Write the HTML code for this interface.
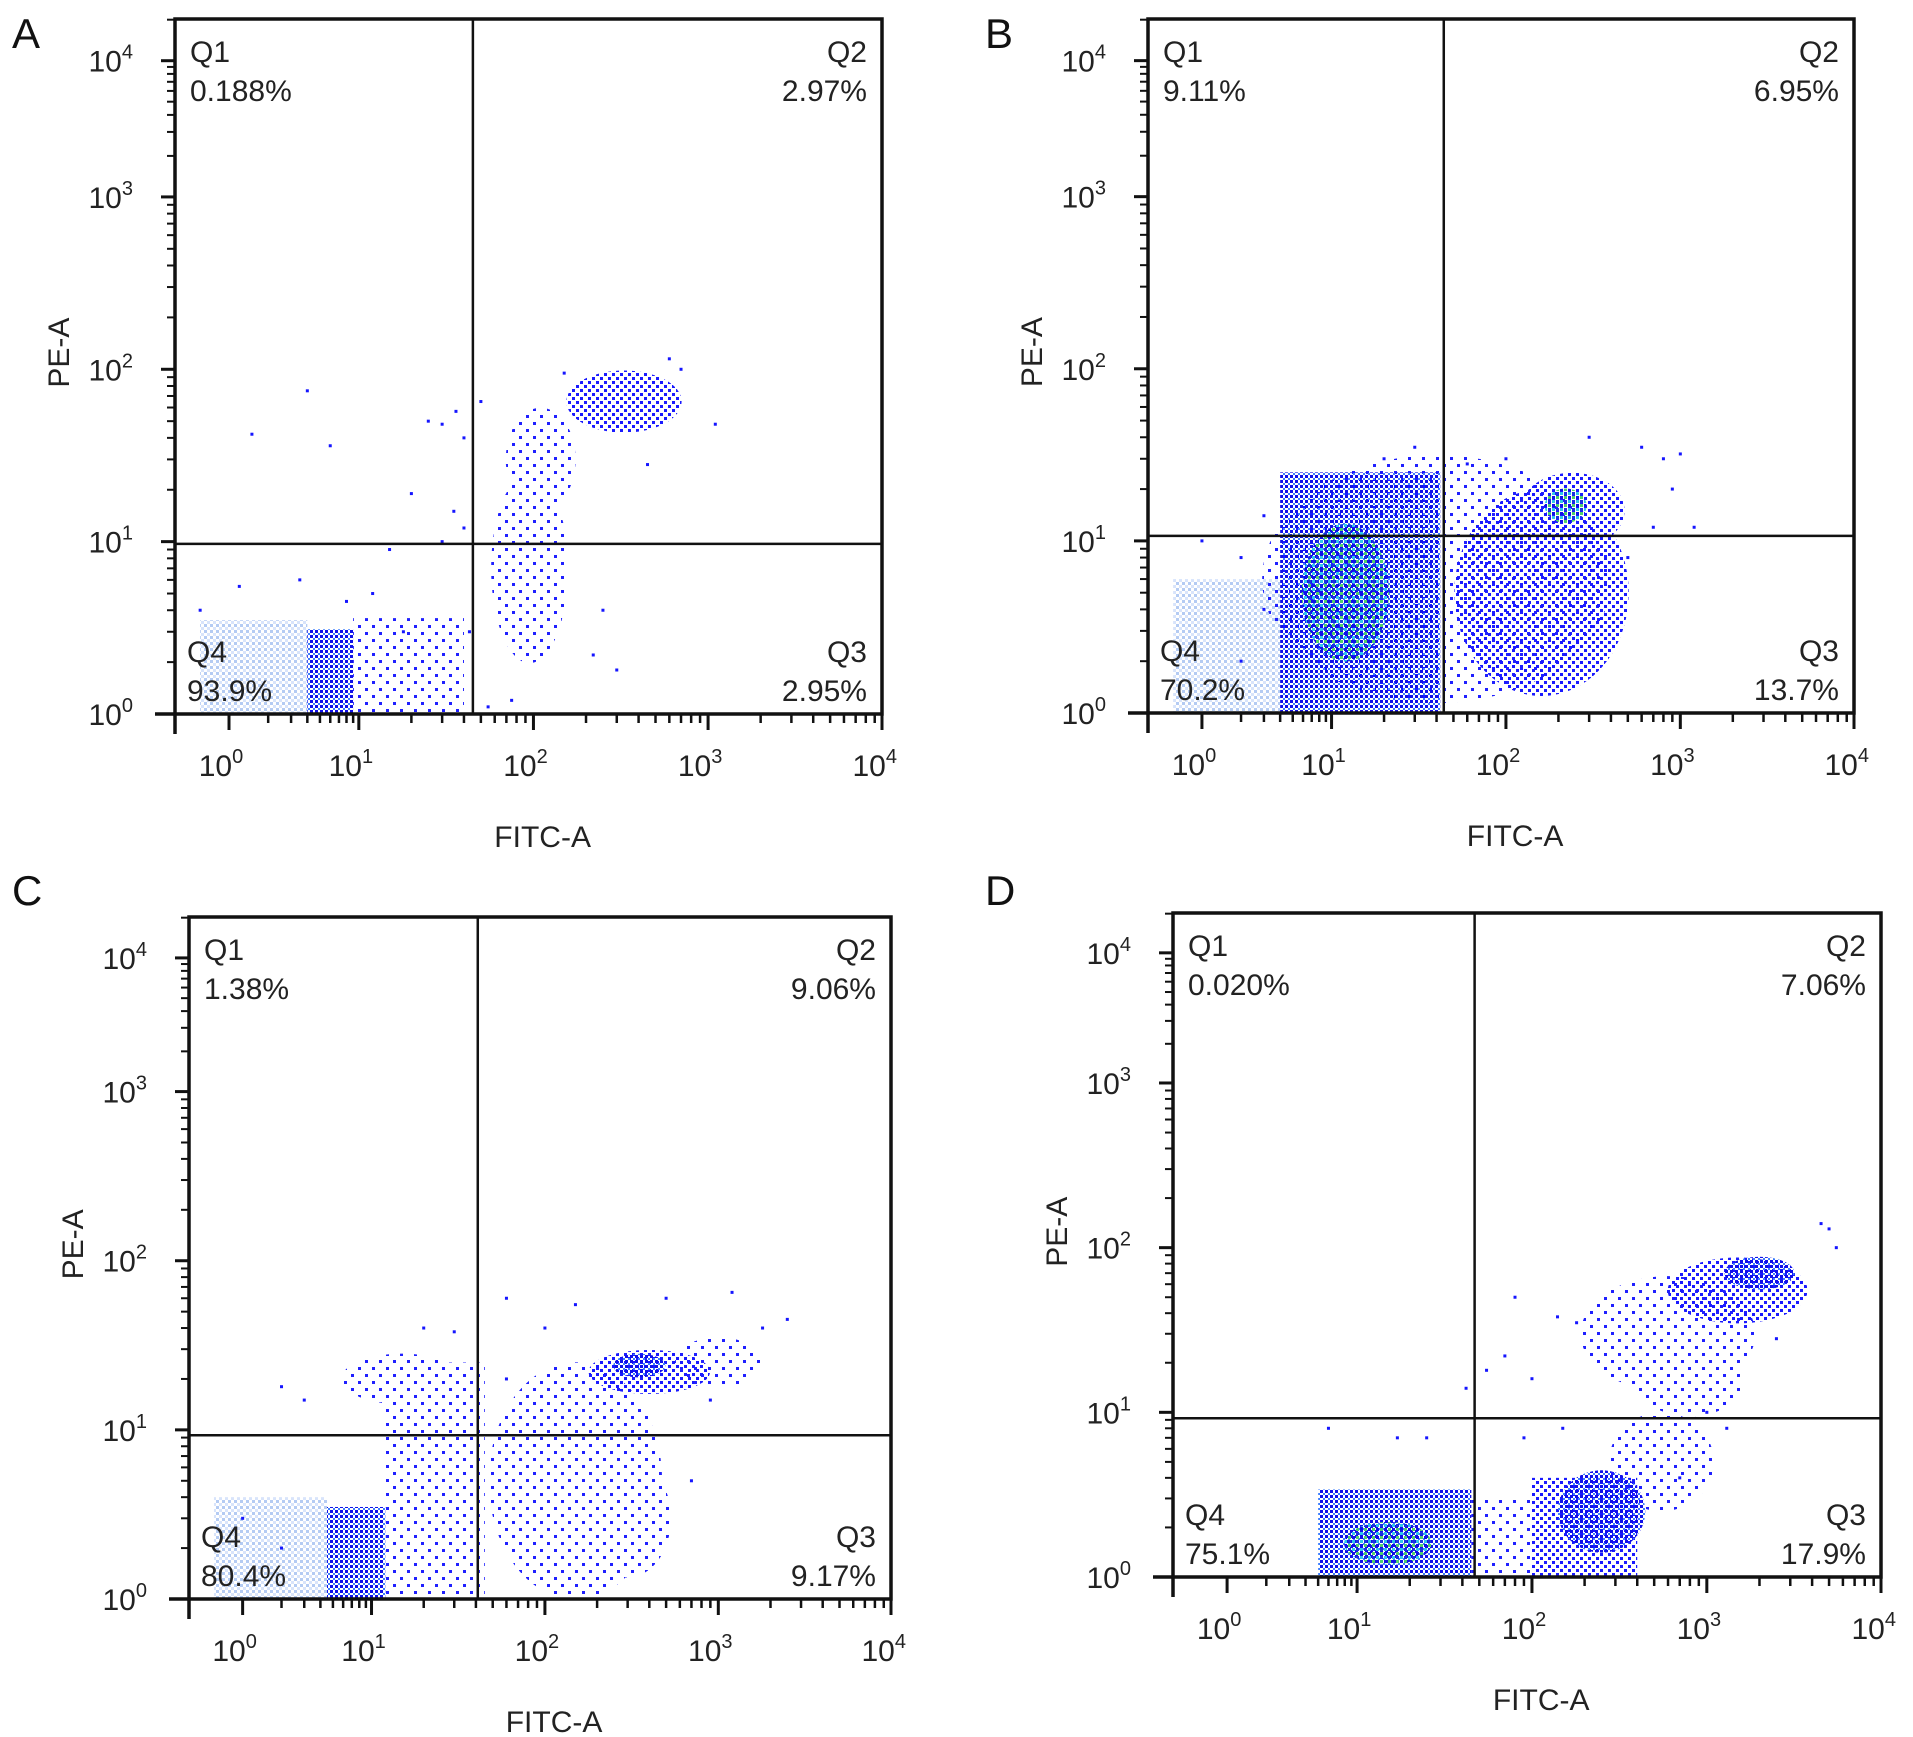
<!DOCTYPE html>
<html><head><meta charset="utf-8"><style>
html,body{margin:0;padding:0;background:#fff;}
svg{display:block;font-family:"Liberation Sans",Arial,sans-serif;}
</style></head><body>
<svg id="fig" width="1913" height="1737" viewBox="0 0 1913 1737" xmlns="http://www.w3.org/2000/svg">
<defs>
<pattern id="p-pale" width="6" height="6" patternUnits="userSpaceOnUse"><rect x="0" y="0" width="3" height="3" fill="#b4cbf3"/><rect x="3" y="3" width="3" height="3" fill="#d8e4fb"/></pattern>
<pattern id="p-sparse" width="14" height="14" patternUnits="userSpaceOnUse"><rect x="1" y="2" width="3" height="3" fill="#2020ff"/><rect x="8" y="9" width="3" height="3" fill="#2020ff"/></pattern>
<pattern id="p-medium" width="8" height="8" patternUnits="userSpaceOnUse"><rect x="0" y="1" width="3" height="3" fill="#1a1aff"/><rect x="4" y="5" width="3" height="3" fill="#1a1aff"/></pattern>
<pattern id="p-dense" width="5" height="5" patternUnits="userSpaceOnUse"><rect x="0" y="0" width="3" height="3" fill="#1010e8"/><rect x="3" y="3" width="2" height="2" fill="#3a7cff"/></pattern>
<pattern id="p-core" width="8" height="8" patternUnits="userSpaceOnUse"><rect x="0" y="0" width="3" height="3" fill="#1010e8"/><rect x="4" y="0" width="3" height="3" fill="#4fd06a"/><rect x="0" y="4" width="3" height="3" fill="#30c8e8"/><rect x="4" y="4" width="3" height="3" fill="#1a30e0"/></pattern>
</defs>
</svg>
<script>
// ---- data ----
const panelLetters = ["A","B","C","D"];
const xTickLabels = ["0","1","2","3","4"];
const yTickLabels = ["0","1","2","3","4"];
const q1Values = ["0.188%","9.11%","1.38%","0.020%"];
const q2Values = ["2.97%","6.95%","9.06%","7.06%"];
const q3Values = ["2.95%","13.7%","9.17%","17.9%"];
const q4Values = ["93.9%","70.2%","80.4%","75.1%"];
const gateX = [45, 44, 41, 47];
const gateY = [9.7, 10.7, 9.3, 9.2];
// regions: rect [type, x0, x1, y0, y1, level] or ellipse [type, cx, cy, rxDec, ryDec, level]
const regionsA = [
 ["r",0.6,4,1,3.5,"pale"],["r",4,9,1,3.1,"dense"],["r",9,40,1,3.6,"sparse"],
 ["e",95,7,0.22,0.55,"sparse"],["e",110,30,0.2,0.3,"sparse"],["e",330,65,0.33,0.18,"medium"]];
const regionsB = [
 ["r",0.6,4,1,6,"pale"],["e",40,6,1.0,0.72,"sparse"],["r",4,42,1,25,"dense"],
 ["e",12,5,0.25,0.4,"core"],["e",160,5,0.5,0.6,"medium"],["e",240,15,0.3,0.22,"medium"],["e",220,16,0.12,0.1,"core"]];
const regionsC = [
 ["r",0.6,4.5,1,4,"pale"],["r",4.5,12,1,3.5,"dense"],["r",12,45,1,25,"sparse"],
 ["e",15,20,0.35,0.15,"sparse"],["e",150,5,0.5,0.7,"sparse"],["e",400,22,0.35,0.13,"medium"],["e",350,24,0.15,0.07,"dense"],["e",300,3,0.25,0.35,"sparse"],["e",1000,25,0.25,0.15,"sparse"]];
const regionsD = [
 ["r",5,45,1,3.4,"dense"],["e",15,1.6,0.25,0.13,"core"],["r",45,100,1,3,"sparse"],
 ["r",100,400,1,4,"medium"],["e",250,2.5,0.25,0.25,"dense"],["e",550,5,0.3,0.3,"sparse"],["e",600,30,0.5,0.35,"sparse"],
 ["e",1500,55,0.4,0.2,"medium"],["e",2000,70,0.2,0.1,"dense"],["e",800,15,0.3,0.2,"sparse"]];
const pointsA = [[1.5,42],[4,75],[6,36],[25,50],[30,48],[36,57],[40,40],[20,19],[50,65],[1100,48],[600,115],[450,28],[0.6,4],[1.2,5.5],[3.5,6],[15,9],[40,12],[43,3],[300,1.8],[250,4],[220,2.2],[55,1.1],[75,1.2],[30,10],[35,15],[12,5],[18,3],[8,4.5],[700,100],[150,95]];
const pointsB = [[1,10],[2,8],[3,14],[1000,32],[800,30],[600,35],[300,40],[500,8],[700,12],[900,20],[1200,12],[30,35],[20,30],[60,28],[100,30],[3,4],[2,2]];
const pointsC = [[2,18],[3,15],[20,40],[30,38],[60,60],[150,55],[500,60],[1200,65],[2500,45],[1800,40],[900,15],[700,5],[2,2],[1,3],[60,20],[100,40]];
const pointsD = [[6,8],[17,7],[25,7],[42,14],[55,18],[70,22],[100,16],[80,50],[140,38],[180,35],[5000,130],[4500,140],[5500,100],[2500,28],[1000,10],[700,4],[1300,8],[150,8],[90,7]];
const allRegions = [regionsA, regionsB, regionsC, regionsD];
const allPoints = [pointsA, pointsB, pointsC, pointsD];
// ---- layout ----
const boxes = [[175,19,882,714],[1148,19,1854,713],[189,917,891,1599],[1173,913,1881,1577]];
const letterPos = [[12,48],[985,48],[12,905],[985,905]];
const NS = "http://www.w3.org/2000/svg";
const svg = document.getElementById("fig");
function mk(tag, attrs, parent){const e=document.createElementNS(NS,tag);for(const k in attrs)e.setAttribute(k,attrs[k]);(parent||svg).appendChild(e);return e;}
function xf(v){const l=Math.log10(v);return l<1?0.0764+0.184*l:0.26+0.247*(l-1);}
function yf(v){const l=Math.log10(v);return l<=3?0.248*l:0.744+0.196*(l-3);}
for(let p=0;p<4;p++){
 const [L,T,R,B]=boxes[p]; const W=R-L,H=B-T;
 const X=v=>L+xf(v)*W, Y=v=>B-yf(v)*H;
 const g=mk("g",{});
 
 
 const clip=mk("clipPath",{id:"c"+p},g); mk("rect",{x:L,y:T,width:W,height:H},clip);
 const dots=mk("g",{"clip-path":"url(#c"+p+")"},g);
 
 
 allRegions[p].forEach(r=>{
  let el;
  if(r[0]==="r"){el=mk("rect",{x:X(r[1]),y:Y(r[4]),width:X(r[2])-X(r[1]),height:Y(r[3])-Y(r[4]),fill:"url(#p-"+r[5]+")"},dots);}
  else{el=mk("ellipse",{cx:X(r[1]),cy:Y(r[2]),rx:r[3]*0.247*W,ry:r[4]*0.248*H,fill:"url(#p-"+r[5]+")"},dots);}
  
  
 });
 allPoints[p].forEach(pt=>{
  const d=mk("rect",{x:X(pt[0])-1.5,y:Y(pt[1])-1.5,width:3,height:3,fill:"#1515ff"},dots);
  
  
 });
 const bx=mk("rect",{x:L,y:T,width:W,height:H,fill:"none",stroke:"#111","stroke-width":3.5},g);
 
 
 mk("line",{x1:L-20,y1:B,x2:L,y2:B,stroke:"#111","stroke-width":3.5},g);
 mk("line",{x1:L,y1:B,x2:L,y2:B+20,stroke:"#111","stroke-width":3.5},g);
 const gv=mk("line",{x1:X(gateX[p]),y1:T,x2:X(gateX[p]),y2:B,stroke:"#111","stroke-width":2.5},g);
 
 
 const gh=mk("line",{x1:L,y1:Y(gateY[p]),x2:R,y2:Y(gateY[p]),stroke:"#111","stroke-width":2.5},g);
 
 
 for(let d=0;d<4;d++){for(let m=1;m<=9;m++){const v=m*Math.pow(10,d);const x=X(v);if(x<L-1)continue;
  mk("line",{x1:x,y1:B,x2:x,y2:B+(m===1?16:9),stroke:"#111","stroke-width":m===1?3:2.5},g);}}
 mk("line",{x1:R,y1:B,x2:R,y2:B+16,stroke:"#111","stroke-width":3},g);
 xTickLabels.forEach((e,i)=>{const t=mk("text",{x:X(Math.pow(10,i))-8,y:B+62,"font-size":30,fill:"#222","text-anchor":"middle"},g);
  t.textContent="10";const s=mk("tspan",{dy:-13,"font-size":20},t);s.textContent=e;
  
  });
 for(let d=0;d<5;d++){for(let m=1;m<=9;m++){const v=m*Math.pow(10,d);const y=Y(v);if(y<T-8)continue;
  mk("line",{x1:L,y1:y,x2:L-(m===1?14:8),y2:y,stroke:"#111","stroke-width":m===1?3:2},g);}}
 yTickLabels.forEach((e,i)=>{const t=mk("text",{x:L-42,y:Y(Math.pow(10,i))+11,"font-size":30,fill:"#222","text-anchor":"end"},g);
  t.textContent="10";const s=mk("tspan",{dy:-13,"font-size":20},t);s.textContent=e;
  
  });
 const ql=[["Q1",q1Values[p],L+15,T+43,"start","q1-label"],["Q2",q2Values[p],R-15,T+43,"end","q2-label"],
  ["Q4",q4Values[p],L+12,B-52,"start","q4-label"],["Q3",q3Values[p],R-15,B-52,"end","q3-label"]];
 ql.forEach(q=>{const t1=mk("text",{x:q[2],y:q[3],"font-size":30,fill:"#222","text-anchor":q[4]},g);t1.textContent=q[0];
  
  
  const t2=mk("text",{x:q[2],y:q[3]+39,"font-size":30,fill:"#222","text-anchor":q[4]},g);t2.textContent=q[1];
  
  });
 const xt=mk("text",{x:L+W*0.52,y:B+133,"font-size":30,fill:"#222","text-anchor":"middle"},g);xt.textContent="FITC-A";
 
 
 const yc=B-H*0.52;
 const yt=mk("text",{x:L-106,y:yc,"font-size":30,fill:"#222","text-anchor":"middle",transform:"rotate(-90 "+(L-106)+" "+yc+")"},g);yt.textContent="PE-A";
 
 
 const lt=mk("text",{x:letterPos[p][0],y:letterPos[p][1],"font-size":42,fill:"#111"},g);lt.textContent=panelLetters[p];
 
 
}
</script>
</body></html>
